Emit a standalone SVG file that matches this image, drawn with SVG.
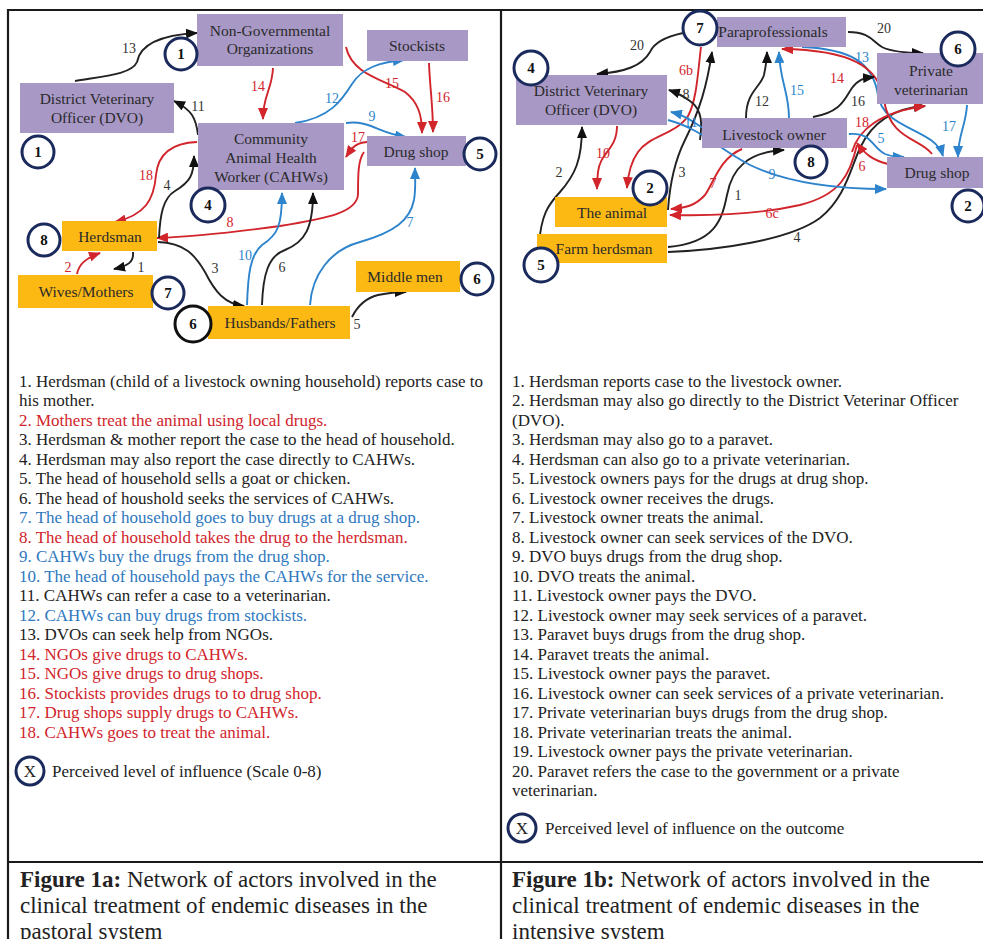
<svg xmlns="http://www.w3.org/2000/svg" width="983" height="939" viewBox="0 0 983 939">
<style>
.frame{stroke:#1a1a1a;stroke-width:2.2;fill:none}
.pbox{fill:#a898c6}
.obox{fill:#fcb813}
.nt{font-family:"Liberation Serif","Times New Roman",serif;font-size:15.5px;fill:#2a2a2a;text-anchor:middle}
.circ{fill:#fff;stroke:#1b2a5c;stroke-width:3}
.circk{fill:#fff;stroke:#111;stroke-width:3}
.ct{font-family:"Liberation Serif","Times New Roman",serif;font-size:15px;font-weight:bold;fill:#111;text-anchor:middle}
.e{fill:none;stroke-width:1.9}
.ek{stroke:#222}
.er{stroke:#d1242b}
.eb{stroke:#2d84cc}
.lbl{font-family:"Liberation Serif","Times New Roman",serif;font-size:14px;text-anchor:middle}
.lk{fill:#333}
.lr{fill:#d1242b}
.lb{fill:#2d84cc}
.lst{font-family:"Liberation Serif","Times New Roman",serif;font-size:17px;fill:#222}
.red{fill:#d1242b}
.blue{fill:#2e78c0}
.cap{font-family:"Liberation Serif","Times New Roman",serif;font-size:23px;fill:#222}
</style>
<defs>
<marker id="ak" viewBox="0 0 12 10" refX="11" refY="5" markerWidth="12" markerHeight="10" markerUnits="userSpaceOnUse" orient="auto"><path d="M0,0 L12,5 L0,10 z" fill="#111"/></marker>
<marker id="ar" viewBox="0 0 12 10" refX="11" refY="5" markerWidth="12" markerHeight="10" markerUnits="userSpaceOnUse" orient="auto"><path d="M0,0 L12,5 L0,10 z" fill="#d1242b"/></marker>
<marker id="ab" viewBox="0 0 12 10" refX="11" refY="5" markerWidth="12" markerHeight="10" markerUnits="userSpaceOnUse" orient="auto"><path d="M0,0 L12,5 L0,10 z" fill="#2d84cc"/></marker>
</defs>
<rect width="983" height="939" fill="#fff"/>
<g id="table">
<line class="frame" x1="7" y1="10" x2="983" y2="10"/>
<line class="frame" x1="8" y1="9" x2="8" y2="939"/>
<line class="frame" x1="501" y1="9" x2="501" y2="939"/>
<line class="frame" x1="7" y1="862" x2="983" y2="862"/>
</g>

<!-- LEFT connectors -->
<g id="connectors-a">
<path class="e ek" marker-end="url(#ak)" d="M75,81 C105,76 132,74 137,62 C140,45 160,35 197,33"/>
<path class="e ek" marker-end="url(#ak)" d="M198,135 C196,118 192,110 174,101"/>
<path class="e er" marker-end="url(#ar)" d="M273,68 C272,90 263,95 263,119"/>
<path class="e er" marker-end="url(#ar)" d="M346,47 C352,75 385,80 405,92 C418,102 422,115 422,133"/>
<path class="e er" marker-end="url(#ar)" d="M429,63 C430,90 433,105 433,132"/>
<path class="e eb" marker-end="url(#ab)" d="M295,123 C330,118 342,100 352,84 C362,68 380,62 404,60"/>
<path class="e eb" marker-end="url(#ab)" d="M346,123 C370,120 378,133 406,137"/>
<path class="e er" marker-end="url(#ar)" d="M367,142 C355,143 352,148 346,157"/>
<path class="e er" marker-end="url(#ar)" d="M364,152 C358,160 358,175 358,195 C356,212 330,218 280,226 C220,234 185,237 157,238"/>
<path class="e er" marker-end="url(#ar)" d="M197,142 C170,143 158,155 156,175 C154,200 145,215 115,222"/>
<path class="e ek" marker-end="url(#ak)" d="M159,238 C160,215 163,198 175,191 C190,182 194,175 194,156"/>
<path class="e ek" marker-end="url(#ak)" d="M133,252 C134,262 128,266 114,269"/>
<path class="e er" marker-end="url(#ar)" d="M77,274 C79,264 86,258 100,253"/>
<path class="e ek" marker-end="url(#ak)" d="M158,242 C185,243 195,255 205,272 C215,292 225,304 244,306"/>
<path class="e eb" marker-end="url(#ab)" d="M247,305 C248,275 250,255 262,245 C278,235 282,225 282,193"/>
<path class="e ek" marker-end="url(#ak)" d="M262,305 C263,275 268,256 285,250 C305,242 313,228 313,193"/>
<path class="e eb" marker-end="url(#ab)" d="M310,305 C312,275 330,250 360,242 C395,232 410,220 414,200 C416,188 415,180 415,168"/>
<path class="e ek" marker-end="url(#ak)" d="M352,317 C358,305 366,298 378,295 C388,293 396,292 406,292"/>
</g>
<g id="labels-a">
<text class="lbl lk" x="129" y="53">13</text>
<text class="lbl lk" x="198" y="111">11</text>
<text class="lbl lr" x="258" y="91">14</text>
<text class="lbl lr" x="392" y="88">15</text>
<text class="lbl lr" x="443" y="102">16</text>
<text class="lbl lb" x="332" y="103">12</text>
<text class="lbl lb" x="372" y="121">9</text>
<text class="lbl lr" x="358" y="142">17</text>
<text class="lbl lr" x="230" y="227">8</text>
<text class="lbl lr" x="146" y="180">18</text>
<text class="lbl lk" x="167" y="190">4</text>
<text class="lbl lk" x="141" y="272">1</text>
<text class="lbl lr" x="68" y="272">2</text>
<text class="lbl lk" x="215" y="273">3</text>
<text class="lbl lb" x="245" y="260">10</text>
<text class="lbl lk" x="282" y="272">6</text>
<text class="lbl lb" x="410" y="227">7</text>
<text class="lbl lk" x="357" y="329">5</text>
</g>

<!-- LEFT nodes -->
<g id="a-ngo"><rect class="pbox" x="197" y="14" width="146" height="52"/><text class="nt" x="270" y="36">Non-Governmental</text><text class="nt" x="270" y="54">Organizations</text><circle class="circ" cx="181" cy="54" r="16"/><text class="ct" x="181" y="59">1</text></g>
<g id="a-dvo"><rect class="pbox" x="20" y="83" width="154" height="50"/><text class="nt" x="97" y="104">District Veterinary</text><text class="nt" x="97" y="123">Officer (DVO)</text><circle class="circ" cx="38" cy="152" r="16"/><text class="ct" x="38" y="157">1</text></g>
<g id="a-stockists"><rect class="pbox" x="367" y="30" width="101" height="31"/><text class="nt" x="417" y="51">Stockists</text></g>
<g id="a-cahw"><rect class="pbox" x="198" y="123" width="146" height="67"/><text class="nt" x="271" y="144">Community</text><text class="nt" x="271" y="163">Animal Health</text><text class="nt" x="271" y="182">Worker (CAHWs)</text><circle class="circ" cx="208" cy="205" r="17"/><text class="ct" x="208" y="210">4</text></g>
<g id="a-drugshop"><rect class="pbox" x="367" y="136" width="99" height="30"/><text class="nt" x="416" y="157">Drug shop</text><circle class="circ" cx="480" cy="154" r="16"/><text class="ct" x="480" y="159">5</text></g>
<g id="a-herdsman"><rect class="obox" x="62" y="221" width="95" height="30"/><text class="nt" x="110" y="242">Herdsman</text><circle class="circ" cx="44" cy="240" r="16"/><text class="ct" x="44" y="245">8</text></g>
<g id="a-wives"><rect class="obox" x="18" y="275" width="135" height="33"/><text class="nt" x="86" y="297">Wives/Mothers</text><circle class="circ" cx="168" cy="293" r="16"/><text class="ct" x="168" y="298">7</text></g>
<g id="a-husbands"><rect class="obox" x="208" y="306" width="142" height="33"/><text class="nt" x="280" y="328">Husbands/Fathers</text><circle class="circk" cx="193" cy="324" r="18"/><text class="ct" x="193" y="329">6</text></g>
<g id="a-middlemen"><rect class="obox" x="356" y="261" width="104" height="31"/><text class="nt" x="405" y="282">Middle men</text><circle class="circ" cx="477" cy="279" r="16"/><text class="ct" x="477" y="284">6</text></g>

<!-- RIGHT connectors -->
<g id="connectors-b">
<path class="e ek" marker-end="url(#ak)" d="M683,33 C660,38 653,45 650,52 C642,66 625,72 597,74"/>
<path class="e ek" marker-end="url(#ak)" d="M848,32 C870,32 873,42 882,47 C892,52 905,53 923,53"/>
<path class="e er" marker-end="url(#ar)" d="M701,47 C698,70 697,100 688,116 C675,135 650,135 638,152 C630,163 628,175 627,188"/>
<path class="e er" marker-end="url(#ar)" d="M617,126 C617,150 600,152 598,172 C597,180 597,185 597,189"/>
<path class="e ek" marker-end="url(#ak)" d="M700,140 C702,125 703,110 690,101 C683,96 678,93 669,90"/>
<path class="e eb" marker-end="url(#ab)" d="M703,128 C692,122 688,116 671,112"/>
<path class="e ek" marker-end="url(#ak)" d="M539,245 C541,215 548,205 560,192 C575,175 582,160 582,127"/>
<path class="e ek" marker-end="url(#ak)" d="M668,210 C670,180 675,160 685,140 C700,110 707,85 712,52"/>
<path class="e ek" marker-end="url(#ak)" d="M668,247 C715,243 722,220 727,195 C732,168 748,152 784,150"/>
<path class="e ek" marker-end="url(#ak)" d="M668,252 C720,250 790,240 820,218 C845,198 850,170 860,148 C872,122 895,108 925,106"/>
<path class="e er" marker-end="url(#ar)" d="M742,149 C720,158 714,182 705,195 C695,206 685,208 671,209"/>
<path class="e er" marker-end="url(#ar)" d="M857,145 C850,175 840,195 800,205 C760,214 710,216 670,215"/>
<path class="e er" marker-end="url(#ar)" d="M852,152 C858,130 880,112 925,106"/>
<path class="e er" marker-end="url(#ar)" d="M888,164 C872,160 865,154 857,143"/>
<path class="e eb" marker-end="url(#ab)" d="M668,120 C700,128 720,150 750,165 C790,184 840,189 886,189"/>
<path class="e eb" marker-end="url(#ab)" d="M849,134 C872,132 872,148 885,154 C892,157 897,157 904,157"/>
<path class="e eb" marker-end="url(#ab)" d="M802,47 C850,49 873,62 878,95 C883,130 935,128 943,156"/>
<path class="e er" marker-end="url(#ar)" d="M932,154 C920,138 890,140 884,100 C879,66 850,50 782,49"/>
<path class="e eb" marker-end="url(#ab)" d="M967,105 C966,125 958,135 958,157"/>
<path class="e ek" marker-end="url(#ak)" d="M746,118 C746,92 760,88 764,75 C766,65 767,60 767,52"/>
<path class="e eb" marker-end="url(#ab)" d="M789,118 C789,92 780,82 779,52"/>
<path class="e ek" marker-end="url(#ak)" d="M813,117 C842,112 845,98 852,88 C858,80 863,78 874,77"/>
</g>
<g id="labels-b">
<text class="lbl lk" x="637" y="50">20</text>
<text class="lbl lk" x="884" y="33">20</text>
<text class="lbl lr" x="686" y="75">6b</text>
<text class="lbl lk" x="686" y="99">8</text>
<text class="lbl lb" x="691" y="127">11</text>
<text class="lbl lr" x="603" y="158">10</text>
<text class="lbl lk" x="559" y="177">2</text>
<text class="lbl lk" x="682" y="177">3</text>
<text class="lbl lk" x="738" y="200">1</text>
<text class="lbl lk" x="797" y="242">4</text>
<text class="lbl lr" x="713" y="188">7</text>
<text class="lbl lr" x="772" y="218">6c</text>
<text class="lbl lr" x="862" y="127">18</text>
<text class="lbl lr" x="862" y="171">6</text>
<text class="lbl lb" x="772" y="179">9</text>
<text class="lbl lb" x="881" y="143">5</text>
<text class="lbl lb" x="862" y="62">13</text>
<text class="lbl lr" x="837" y="83">14</text>
<text class="lbl lb" x="949" y="131">17</text>
<text class="lbl lk" x="762" y="106">12</text>
<text class="lbl lb" x="797" y="95">15</text>
<text class="lbl lk" x="858" y="106">16</text>
</g>

<!-- RIGHT nodes -->
<g id="b-para"><rect class="pbox" x="717" y="17" width="129" height="30"/><text class="nt" x="773" y="37">Paraprofessionals</text><circle class="circ" cx="700" cy="28" r="17"/><text class="ct" x="700" y="33">7</text></g>
<g id="b-dvo"><rect class="pbox" x="516" y="75" width="151" height="50"/><text class="nt" x="591" y="96">District Veterinary</text><text class="nt" x="591" y="115">Officer (DVO)</text><circle class="circ" cx="531" cy="68" r="17"/><text class="ct" x="531" y="73">4</text></g>
<g id="b-pvet"><rect class="pbox" x="877" y="53" width="106" height="51"/><text class="nt" x="931" y="76">Private</text><text class="nt" x="931" y="95">veterinarian</text><circle class="circ" cx="958" cy="49" r="17"/><text class="ct" x="958" y="54">6</text></g>
<g id="b-owner"><rect class="pbox" x="702" y="118" width="145" height="30"/><text class="nt" x="774" y="140">Livestock owner</text><circle class="circ" cx="811" cy="162" r="16"/><text class="ct" x="811" y="167">8</text></g>
<g id="b-drugshop"><rect class="pbox" x="887" y="157" width="96" height="31"/><text class="nt" x="937" y="178">Drug shop</text><circle class="circ" cx="968" cy="206" r="16"/><text class="ct" x="968" y="211">2</text></g>
<g id="b-animal"><rect class="obox" x="555" y="197" width="112" height="30"/><text class="nt" x="612" y="218">The animal</text><circle class="circ" cx="650" cy="188" r="17"/><text class="ct" x="650" y="193">2</text></g>
<g id="b-farm"><rect class="obox" x="537" y="234" width="130" height="29"/><text class="nt" x="604" y="254">Farm herdsman</text><circle class="circ" cx="541" cy="265" r="17"/><text class="ct" x="541" y="270">5</text></g>

<!-- LEFT list -->
<g id="list-a">
<text class="lst" x="19" y="387">1. Herdsman (child of a livestock owning household) reports case to</text>
<text class="lst" x="19" y="406">his mother.</text>
<text class="lst red" x="19" y="425.5">2. Mothers treat the animal using local drugs.</text>
<text class="lst" x="19" y="445">3. Herdsman &amp; mother report the case to the head of household.</text>
<text class="lst" x="19" y="464.5">4. Herdsman may also report the case directly to CAHWs.</text>
<text class="lst" x="19" y="484">5. The head of household sells a goat or chicken.</text>
<text class="lst" x="19" y="503.5">6. The head of houshold seeks the services of CAHWs.</text>
<text class="lst blue" x="19" y="523">7. The head of household goes to buy drugs at a drug shop.</text>
<text class="lst red" x="19" y="542.5">8. The head of household takes the drug to the herdsman.</text>
<text class="lst blue" x="19" y="562">9. CAHWs buy the drugs from the drug shop.</text>
<text class="lst blue" x="19" y="581.5">10. The head of household pays the CAHWs for the service.</text>
<text class="lst" x="19" y="601">11. CAHWs can refer a case to a veterinarian.</text>
<text class="lst blue" x="19" y="620.5">12. CAHWs can buy drugs from stockists.</text>
<text class="lst" x="19" y="640">13. DVOs can seek help from NGOs.</text>
<text class="lst red" x="19" y="659.5">14. NGOs give drugs to CAHWs.</text>
<text class="lst red" x="19" y="679">15. NGOs give drugs to drug shops.</text>
<text class="lst red" x="19" y="698.5">16. Stockists provides drugs to to drug shop.</text>
<text class="lst red" x="19" y="718">17. Drug shops supply drugs to CAHWs.</text>
<text class="lst red" x="19" y="737.5">18. CAHWs goes to treat the animal.</text>
</g>
<g id="legend-a"><circle class="circ" cx="30" cy="771" r="14" stroke-width="2.5"/><text class="lst" x="30" y="777" text-anchor="middle">X</text><text class="lst" x="52" y="777" font-size="16">Perceived level of influence (Scale 0-8)</text></g>

<!-- RIGHT list -->
<g id="list-b">
<text class="lst" x="512" y="387">1. Herdsman reports case to the livestock owner.</text>
<text class="lst" x="512" y="406">2. Herdsman may also go directly to the District Veterinar Officer</text>
<text class="lst" x="512" y="425.5">(DVO).</text>
<text class="lst" x="512" y="445">3. Herdsman may also go to a paravet.</text>
<text class="lst" x="512" y="464.5">4. Herdsman can also go to a private veterinarian.</text>
<text class="lst" x="512" y="484">5. Livestock owners pays for the drugs at drug shop.</text>
<text class="lst" x="512" y="503.5">6. Livestock owner receives the drugs.</text>
<text class="lst" x="512" y="523">7. Livestock owner treats the animal.</text>
<text class="lst" x="512" y="542.5">8. Livestock owner can seek services of the DVO.</text>
<text class="lst" x="512" y="562">9. DVO buys drugs from the drug shop.</text>
<text class="lst" x="512" y="581.5">10. DVO treats the animal.</text>
<text class="lst" x="512" y="601">11. Livestock owner pays the DVO.</text>
<text class="lst" x="512" y="620.5">12. Livestock owner may seek services of a paravet.</text>
<text class="lst" x="512" y="640">13. Paravet buys drugs from the drug shop.</text>
<text class="lst" x="512" y="659.5">14. Paravet treats the animal.</text>
<text class="lst" x="512" y="679">15. Livestock owner pays the paravet.</text>
<text class="lst" x="512" y="698.5">16. Livestock owner can seek services of a private veterinarian.</text>
<text class="lst" x="512" y="718">17. Private veterinarian buys drugs from the drug shop.</text>
<text class="lst" x="512" y="737.5">18. Private veterinarian treats the animal.</text>
<text class="lst" x="512" y="757">19. Livestock owner pays the private veterinarian.</text>
<text class="lst" x="512" y="776.5">20. Paravet refers the case to the government or a private</text>
<text class="lst" x="512" y="796">veterinarian.</text>
</g>
<g id="legend-b"><circle class="circ" cx="522" cy="828" r="14" stroke-width="2.5"/><text class="lst" x="522" y="834" text-anchor="middle">X</text><text class="lst" x="545" y="834" font-size="16">Perceived level of influence on the outcome</text></g>

<!-- captions -->
<g id="caption-a">
<text class="cap" x="20" y="887"><tspan font-weight="bold">Figure 1a:</tspan> Network of actors involved in the</text>
<text class="cap" x="20" y="913">clinical treatment of endemic diseases in the</text>
<text class="cap" x="20" y="939">pastoral system</text>
</g>
<g id="caption-b">
<text class="cap" x="512" y="887"><tspan font-weight="bold">Figure 1b:</tspan> Network of actors involved in the</text>
<text class="cap" x="512" y="913">clinical treatment of endemic diseases in the</text>
<text class="cap" x="512" y="939">intensive system</text>
</g>
</svg>
